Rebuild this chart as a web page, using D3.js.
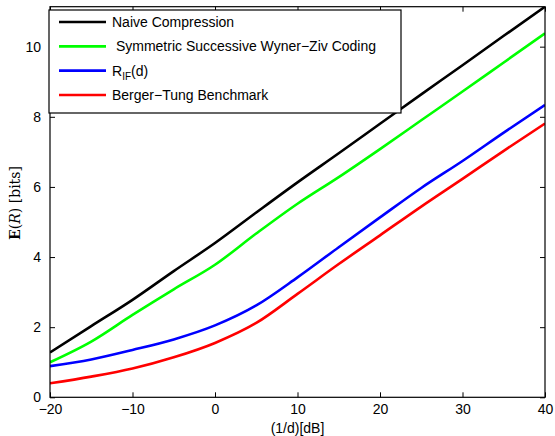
<!DOCTYPE html>
<html>
<head>
<meta charset="utf-8">
<script src="https://cdn.jsdelivr.net/npm/d3@7"></script>
<style>
  body { margin: 0; background: #fff; }
  text { font-family: "Liberation Sans", Arial, sans-serif; }
</style>
</head>
<body>
<script>
var snr = [-20, -15, -10, -5, 0, 5, 10, 15, 20, 25, 30, 35, 40];
var naive = [1.28, 2.03, 2.78, 3.60, 4.40, 5.27, 6.13, 6.96, 7.80, 8.64, 9.47, 10.31, 11.14];
var wynerZiv = [1.00, 1.59, 2.35, 3.08, 3.78, 4.67, 5.52, 6.28, 7.08, 7.90, 8.72, 9.55, 10.38];
var rif = [0.89, 1.08, 1.35, 1.65, 2.05, 2.62, 3.42, 4.28, 5.13, 5.97, 6.74, 7.55, 8.34];
var bergerTung = [0.40, 0.59, 0.82, 1.14, 1.55, 2.12, 2.95, 3.80, 4.62, 5.44, 6.23, 7.03, 7.81];
var xTicks = [-20, -10, 0, 10, 20, 30, 40];
var yTicks = [0, 2, 4, 6, 8, 10];

var series = [
  {name: "Naive Compression", values: naive, color: "#000000"},
  {name: " Symmetric Successive Wyner\u2212Ziv Coding", values: wynerZiv, color: "#00ff00"},
  {name: "R_IF(d)", values: rif, color: "#0000ff"},
  {name: "Berger\u2212Tung Benchmark", values: bergerTung, color: "#ff0000"}
];

var W = 555, H = 436;
var padL = 50, padR = 545, padT = 6.7, padB = 397.3;

var svg = d3.select("body").append("svg")
    .attr("width", W)
    .attr("height", H);

var x = d3.scaleLinear().domain([-20, 40]).range([padL, padR]);
var y = d3.scaleLinear().domain([0, 11.14]).range([padB, padT]);

var line = d3.line()
    .curve(d3.curveMonotoneX)
    .x(function (d) { return x(d[0]); })
    .y(function (d) { return y(d[1]); });

var plot = svg.append("g");
plot.append("clipPath").attr("id", "clip")
  .append("rect").attr("x", padL).attr("y", padT)
  .attr("width", padR - padL).attr("height", padB - padT);

plot.selectAll("path.curve")
    .data(series)
    .enter()
    .append("path")
    .attr("class", "curve")
    .attr("clip-path", "url(#clip)")
    .attr("d", function (s) { return line(snr.map(function (v, i) { return [v, s.values[i]]; })); })
    .attr("fill", "none")
    .attr("stroke", function (s) { return s.color; })
    .attr("stroke-width", 2.6)
    .attr("stroke-linejoin", "round");

// axes, ticks inward on all four sides
var tickLen = 5;
function styleAxis(g) {
  g.select(".domain").remove();
  g.selectAll("line").attr("stroke", "#000");
  g.selectAll("text").attr("font-size", 14).attr("fill", "#000");
}
svg.append("g").attr("transform", "translate(0," + padB + ")")
    .call(d3.axisBottom(x).tickValues(xTicks).tickSizeInner(-tickLen).tickPadding(7)
      .tickFormat(function (d) { return d < 0 ? "\u2212" + Math.abs(d) : d; }))
    .call(styleAxis);
svg.append("g").attr("transform", "translate(0," + padT + ")")
    .call(d3.axisTop(x).tickValues(xTicks).tickSizeInner(-tickLen).tickFormat(""))
    .call(styleAxis);
svg.append("g").attr("transform", "translate(" + padL + ",0)")
    .call(d3.axisLeft(y).tickValues(yTicks).tickSizeInner(-tickLen).tickPadding(9))
    .call(styleAxis);
svg.append("g").attr("transform", "translate(" + padR + ",0)")
    .call(d3.axisRight(y).tickValues(yTicks).tickSizeInner(-tickLen).tickFormat(""))
    .call(styleAxis);

svg.append("rect")
    .attr("x", padL).attr("y", padT)
    .attr("width", padR - padL).attr("height", padB - padT)
    .attr("fill", "none").attr("stroke", "#000").attr("stroke-width", 1.2);

// axis labels
svg.append("text")
    .attr("x", (padL + padR) / 2).attr("y", 433)
    .attr("text-anchor", "middle").attr("font-size", 14)
    .text("(1/d)[dB]");

var yl = svg.append("text")
    .attr("transform", "translate(20," + 203 + ") rotate(-90)")
    .attr("text-anchor", "middle")
    .attr("font-size", 14)
    .style("font-family", "'DejaVu Serif', 'Liberation Serif', serif");
yl.append("tspan").attr("font-weight", "bold").text("E");
yl.append("tspan").text("(");
yl.append("tspan").attr("font-style", "italic").text("R");
yl.append("tspan").text(") [bits]");

// legend
var lg = svg.append("g");
lg.append("rect")
    .attr("x", 49).attr("y", 10).attr("width", 352).attr("height", 103)
    .attr("fill", "#fff").attr("stroke", "#000").attr("stroke-width", 1.2);

var rowY = d3.scalePoint().domain(series.map(function (s) { return s.name; })).range([22, 95]);
var rows = lg.selectAll("g.row").data(series).enter().append("g").attr("class", "row")
    .attr("transform", function (s) { return "translate(0," + rowY(s.name) + ")"; });
rows.append("line")
    .attr("x1", 59).attr("x2", 106)
    .attr("stroke", function (s) { return s.color; })
    .attr("stroke-width", 2.6);
rows.each(function (s) {
  var t = d3.select(this).append("text")
      .attr("x", 112).attr("y", 5).attr("font-size", 14);
  if (s.name === "R_IF(d)") {
    t.append("tspan").text("R");
    t.append("tspan").attr("font-size", 10).attr("dy", 4).text("IF");
    t.append("tspan").attr("dy", -4).text("(d)");
  } else {
    t.style("white-space", "pre").text(s.name);
  }
});
</script>
</body>
</html>
